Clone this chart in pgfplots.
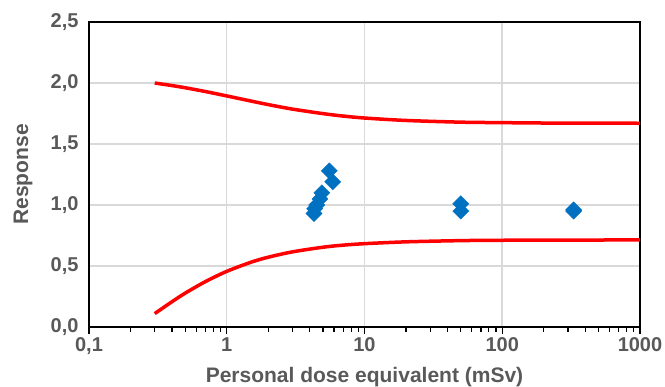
\documentclass[border=0pt]{standalone}
\usepackage{fontspec}
\setmainfont{Liberation Sans}
\usepackage{pgfplots}
\pgfplotsset{compat=1.18}
\definecolor{txt}{HTML}{595959}
\definecolor{grd}{HTML}{D9D9D9}
\definecolor{mk}{HTML}{0070C0}
\begin{document}
\begin{tikzpicture}
\useasboundingbox (-89bp,-60bp) rectangle (576bp,327bp);
\begin{axis}[
  scale only axis, width=551bp, height=305bp,
  xmode=log, xmin=0.1, xmax=1000, ymin=0, ymax=2.5,
  xtick={0.1,1,10,100,1000}, xticklabels={{0,1},1,10,100,1000},
  minor xtick={0.2,0.3,0.4,0.5,0.6,0.7,0.8,0.9,2,3,4,5,6,7,8,9,20,30,40,50,60,70,80,90,200,300,400,500,600,700,800,900},
  ytick={0,0.5,1,1.5,2,2.5},
  yticklabel={\pgfmathprintnumber[assume math mode=true,use comma,fixed,fixed zerofill,precision=1]{\tick}},
  xmajorgrids, ymajorgrids, major grid style={grd, line width=1.5bp},
  axis line style={black, line width=1.5bp},
  tick align=outside, xtick pos=bottom, ytick pos=left,
  major tick length=7bp, minor tick length=5bp,
  ytick style={draw=none},
  xtick style={black, line width=1.2bp},
  ticklabel style={font=\fontsize{20bp}{24bp}\selectfont\bfseries, text=txt},
  label style={font=\fontsize{21bp}{25bp}\selectfont\bfseries, text=txt},
  xlabel={Personal dose equivalent (mSv)},
  ylabel={Response},
  xlabel style={at={(axis description cs:0.5,0)}, anchor=base, yshift=-55bp},
  ylabel style={at={(axis description cs:-0.1198,0.5)}, anchor=center},
]
\addplot[red, line width=3.5bp, smooth] coordinates {
 (0.3,2.000) (0.4,1.979) (0.5,1.961) (0.7,1.930) (1,1.894) (1.5,1.852)
 (2,1.823) (3,1.786) (5,1.749) (7,1.729) (10,1.713) (20,1.693)
 (50,1.679) (100,1.675) (200,1.672) (500,1.671) (1000,1.670)};
\addplot[red, line width=3.5bp, smooth] coordinates {
 (0.3,0.110) (0.4,0.207) (0.5,0.278) (0.7,0.372) (1,0.456) (1.5,0.531)
 (2,0.572) (3,0.616) (5,0.654) (7,0.671) (10,0.683) (20,0.698)
 (50,0.708) (100,0.711) (200,0.712) (500,0.713) (1000,0.714)};
\addplot[only marks, mark=square*, mark size=5.7bp, mark options={rotate=45, fill=mk, draw=mk}] coordinates {
 (5.55,1.28) (5.88,1.19)
 (4.9,1.10) (4.75,1.05) (4.5,1.00) (4.35,0.97) (4.3,0.93)
 (50,1.01) (50,0.95)
 (330,0.95) (330,0.96)};
\end{axis}
\end{tikzpicture}
\end{document}
